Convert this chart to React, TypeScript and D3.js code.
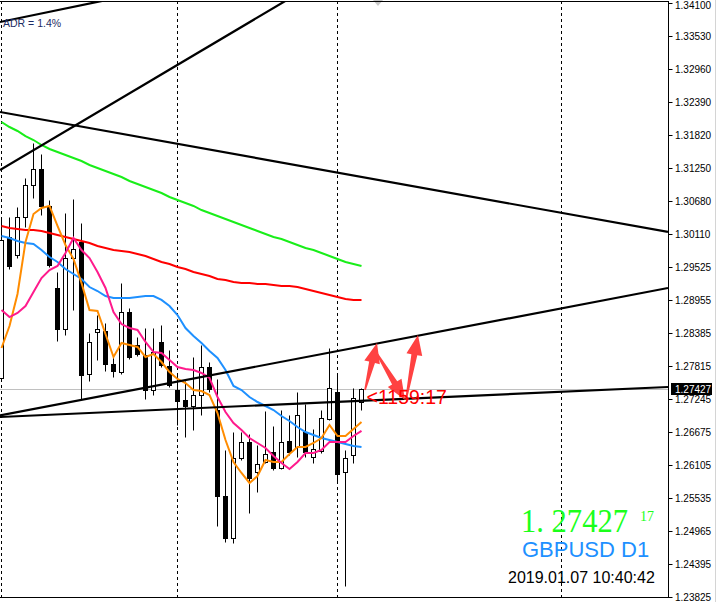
import React from "react";
import * as d3 from "d3";

const W = 717;
const H = 602;

// Daily GBPUSD candles (oldest -> newest)
const opens = [1.27613,1.30052,1.29741,1.30398,1.30952,1.31229,1.30588,1.29170,1.28461,1.29689,1.29966,1.27682,1.28409,1.28426,1.27855,1.27717,1.28755,1.28184,1.28011,1.27406,1.28236,1.27821,1.27406,1.27233,1.27129,1.27319,1.27804,1.27060,1.25572,1.24846,1.26229,1.26506,1.25987,1.26160,1.26333,1.26056,1.26524,1.26420,1.26679,1.26247,1.26351,1.26904,1.27371,1.25987,1.26281,1.27198];
const highs = [1.30381,1.30398,1.30571,1.31073,1.31678,1.31488,1.30692,1.29447,1.30467,1.30710,1.30294,1.28392,1.28703,1.28565,1.28011,1.29257,1.28824,1.28323,1.28478,1.28478,1.28530,1.28098,1.27665,1.27561,1.27977,1.28184,1.27890,1.27596,1.26368,1.26679,1.26679,1.26645,1.26454,1.27042,1.26783,1.27060,1.26973,1.27371,1.27164,1.26731,1.27060,1.28132,1.27700,1.26368,1.27440,1.27440];
const lows = [1.27579,1.29499,1.29689,1.30225,1.30727,1.30433,1.29533,1.28253,1.28357,1.28790,1.27250,1.27561,1.27925,1.27734,1.27631,1.27682,1.27942,1.27994,1.27250,1.27319,1.27804,1.27458,1.26800,1.26593,1.26714,1.26973,1.27371,1.25053,1.24776,1.24759,1.26195,1.25278,1.25641,1.26143,1.26022,1.26039,1.26281,1.26247,1.26247,1.26143,1.26316,1.26887,1.25797,1.24015,1.26143,1.27060];
const closes = [1.30000,1.29551,1.30398,1.30952,1.31229,1.30588,1.29568,1.28461,1.29689,1.29845,1.27665,1.28236,1.28461,1.27855,1.27734,1.28755,1.27977,1.28028,1.27406,1.28063,1.27838,1.27492,1.27215,1.27129,1.27319,1.27804,1.27423,1.25572,1.24846,1.26229,1.26506,1.25883,1.26126,1.26299,1.26056,1.26506,1.26333,1.26973,1.26333,1.26385,1.26921,1.27440,1.25953,1.26229,1.27267,1.27427];

// Moving averages
const maGreen = [1.32042,1.31955,1.31886,1.31799,1.31730,1.31644,1.31575,1.31523,1.31471,1.31419,1.31367,1.31298,1.31246,1.31194,1.31142,1.31090,1.31021,1.30969,1.30917,1.30865,1.30813,1.30744,1.30692,1.30640,1.30589,1.30519,1.30467,1.30416,1.30364,1.30312,1.30260,1.30208,1.30156,1.30104,1.30052,1.30018,1.29966,1.29914,1.29862,1.29827,1.29776,1.29724,1.29672,1.29620,1.29585,1.29551];
const maRed = [1.30243,1.30208,1.30191,1.30173,1.30173,1.30156,1.30122,1.30087,1.30052,1.30018,1.29983,1.29949,1.29897,1.29862,1.29827,1.29810,1.29793,1.29758,1.29724,1.29672,1.29620,1.29585,1.29533,1.29499,1.29447,1.29412,1.29378,1.29326,1.29309,1.29274,1.29257,1.29257,1.29239,1.29239,1.29222,1.29205,1.29205,1.29187,1.29153,1.29118,1.29084,1.29049,1.29014,1.28980,1.28963,1.28963];
const maBlue = [1.30070,1.30035,1.29983,1.29949,1.29931,1.29827,1.29706,1.29620,1.29499,1.29412,1.29326,1.29187,1.29118,1.29032,1.28997,1.28997,1.28997,1.29014,1.29032,1.29032,1.28963,1.28859,1.28703,1.28478,1.28340,1.28219,1.28080,1.27959,1.27752,1.27475,1.27406,1.27285,1.27198,1.27129,1.27060,1.26956,1.26869,1.26766,1.26679,1.26627,1.26575,1.26541,1.26506,1.26472,1.26437,1.26420];
const maOrange = [1.28132,1.28513,1.29066,1.29966,1.30450,1.30554,1.30589,1.30243,1.29914,1.29672,1.29257,1.28790,1.28772,1.28374,1.27977,1.28219,1.28184,1.28150,1.27977,1.28028,1.27890,1.27717,1.27596,1.27527,1.27406,1.27388,1.27319,1.27008,1.26541,1.26160,1.25970,1.25797,1.25918,1.26195,1.26160,1.26160,1.26299,1.26420,1.26420,1.26489,1.26575,1.26800,1.26610,1.26610,1.26731,1.26852];
const maPink = [1.28790,1.28668,1.28738,1.28859,1.29101,1.29343,1.29481,1.29551,1.29776,1.30035,1.29827,1.29689,1.29447,1.29170,1.28755,1.28547,1.28478,1.28444,1.28236,1.28063,1.28046,1.27925,1.27804,1.27769,1.27752,1.27700,1.27613,1.27285,1.27025,1.26835,1.26714,1.26575,1.26489,1.26402,1.26264,1.26143,1.26039,1.26160,1.26316,1.26316,1.26368,1.26506,1.26506,1.26506,1.26610,1.26697];

const maSeries = [
  { values: maGreen, color: "#19ee19" },
  { values: maRed, color: "#ff0000" },
  { values: maBlue, color: "#1e90ff" },
  { values: maOrange, color: "#ff8c00" },
  { values: maPink, color: "#ff1a8c" },
];

// price axis
const priceTicks = [1.341, 1.3353, 1.3296, 1.3239, 1.3182, 1.3125, 1.3068, 1.3011, 1.29525, 1.28955, 1.28385, 1.27815, 1.27245, 1.26675, 1.26105, 1.25535, 1.24965, 1.24395, 1.23825];
const currentPrice = 1.27427;

// vertical grid at bar indices
const gridBars = [0, 22, 42, 70];

// trend lines: [barIndex1, price1, barIndex2, price2]
const trendLines: [number, number, number, number][] = [
  [-0.19, 1.33771, 19.2, 1.34325],
  [-0.19, 1.31211, 37.8, 1.34325],
  [-0.19, 1.32215, 83.31, 1.30139],
  [-0.19, 1.26965, 83.31, 1.29170],
  [-0.19, 1.26939, 83.31, 1.27458],
];

// red arrows: [barIndexTail, priceTail, barIndexTip, priceTip]
const arrows: [number, number, number, number][] = [
  [45.44, 1.27406, 46.94, 1.28219],
  [46.81, 1.28063, 50.44, 1.27233],
  [50.56, 1.27233, 52.06, 1.28357],
];

function arrowPoints(x1: number, y1: number, x2: number, y2: number) {
  const dx = x2 - x1, dy = y2 - y1;
  const len = Math.hypot(dx, dy);
  const ux = dx / len, uy = dy / len;
  const nx = -uy, ny = ux;
  const headLen = 20, headW = 8, neckW = 3, tailW = 0.8;
  const kx = x2 - ux * headLen, ky = y2 - uy * headLen;
  const pts = [
    [x1 + nx * tailW, y1 + ny * tailW],
    [kx + nx * neckW, ky + ny * neckW],
    [kx + nx * headW, ky + ny * headW],
    [x2, y2],
    [kx - nx * headW, ky - ny * headW],
    [kx - nx * neckW, ky - ny * neckW],
    [x1 - nx * tailW, y1 - ny * tailW],
  ];
  return pts.map((p) => p.join(",")).join(" ");
}

export default function App() {
  const plotRight = 668;
  const x = d3.scaleLinear().domain([0, 45]).range([1.5, 361.5]);
  const y = d3.scaleLinear().domain([1.23825, 1.341]).range([597, 3]);
  const sy = (p: number) => Math.round(y(p)) + 0.5;
  const lineGen = d3
    .line<number>()
    .x((_, i) => x(i))
    .y((d) => y(d));

  const axisX = plotRight + 0.5;
  const priceY = sy(currentPrice);

  return (
    <svg
      width={W}
      height={H}
      style={{ position: "fixed", left: 0, top: 0, background: "#fff" }}
      fontFamily="'Liberation Sans', Arial, sans-serif"
    >
      <defs>
        <clipPath id="plot">
          <rect x={0} y={1.5} width={plotRight} height={596} />
        </clipPath>
      </defs>
      <rect x={0} y={0} width={W} height={H} fill="#ffffff" />

      {/* grid */}
      {gridBars.map((b) => (
        <line
          key={b}
          x1={x(b)}
          x2={x(b)}
          y1={1}
          y2={598}
          stroke="#000"
          strokeWidth={1}
          strokeDasharray="3,3"
        />
      ))}

      {/* current price line */}
      <line x1={0} x2={plotRight} y1={priceY} y2={priceY} stroke="#c0c0c0" strokeWidth={1} />

      {/* candles */}
      <g>
        {opens.map((o, i) => {
          const c = closes[i];
          const cx = x(i);
          const bull = c >= o;
          const top = sy(Math.max(o, c));
          const bot = sy(Math.min(o, c));
          return (
            <g key={i}>
              <line x1={cx} x2={cx} y1={sy(highs[i])} y2={sy(lows[i])} stroke="#000" strokeWidth={1} />
              <rect
                x={cx - 2}
                y={top}
                width={4}
                height={Math.max(bot - top, 1)}
                fill={bull ? "#fff" : "#000"}
                stroke="#000"
                strokeWidth={1}
              />
            </g>
          );
        })}
      </g>

      {/* moving averages */}
      <g clipPath="url(#plot)">
        {maSeries.map((s, k) => (
          <path key={k} d={lineGen(s.values) || ""} fill="none" stroke={s.color} strokeWidth={2} />
        ))}
      </g>

      {/* trend lines */}
      <g clipPath="url(#plot)">
        {trendLines.map((t, k) => (
          <line
            key={k}
            x1={x(t[0])}
            y1={y(t[1])}
            x2={x(t[2])}
            y2={y(t[3])}
            stroke="#000"
            strokeWidth={2.2}
          />
        ))}
      </g>

      {/* red arrows */}
      <g fill="#ff3838" opacity={0.95}>
        {arrows.map((a, k) => (
          <polygon key={k} points={arrowPoints(x(a[0]), y(a[1]), x(a[2]), y(a[3]))} />
        ))}
      </g>
      <text x={x(45) + 5} y={404} fontSize={19.5} fill="#ff0000">
        {"<1159:17"}
      </text>

      {/* ADR label */}
      <text x={3} y={27} fontSize={10.5} fill="#1c2c64">
        ADR = 1.4%
      </text>

      {/* shift marker */}
      <polygon points="373,0 383,0 378,6" fill="#c8c8c8" />

      {/* frame & axis */}
      <line x1={0} x2={axisX} y1={1.5} y2={1.5} stroke="#000" strokeWidth={1} />
      <line x1={0} x2={axisX} y1={597.5} y2={597.5} stroke="#000" strokeWidth={1} />
      <line x1={axisX} x2={axisX} y1={1} y2={598} stroke="#000" strokeWidth={1} />
      {priceTicks.map((t) => (
        <g key={t}>
          <line x1={axisX} x2={axisX + 4} y1={sy(t)} y2={sy(t)} stroke="#000" strokeWidth={1} />
          <text x={675} y={Math.max(sy(t) + 3.5, 9)} fontSize={10} fill="#000">
            {t.toFixed(5)}
          </text>
        </g>
      ))}
      <rect x={671} y={priceY - 6.5} width={41} height={12} fill="#000" />
      <text x={675} y={priceY + 3.5} fontSize={10} fill="#fff">
        {currentPrice.toFixed(5)}
      </text>
      <line x1={715.5} x2={715.5} y1={0} y2={H} stroke="#d4d4d4" strokeWidth={1} />

      {/* info block */}
      <text
        x={521}
        y={532}
        fontSize={34}
        fill="#1aff1a"
        fontFamily="'Liberation Serif', 'Times New Roman', serif"
        textLength={107}
        lengthAdjust="spacingAndGlyphs"
      >
        1. 27427
      </text>
      <text x={640} y={521} fontSize={14} fill="#1aff1a" fontFamily="'Liberation Serif', 'Times New Roman', serif">
        17
      </text>
      <text x={522} y={557} fontSize={22} fill="#1e90ff">
        GBPUSD D1
      </text>
      <text x={508} y={583} fontSize={16} fill="#000">
        2019.01.07 10:40:42
      </text>
    </svg>
  );
}
